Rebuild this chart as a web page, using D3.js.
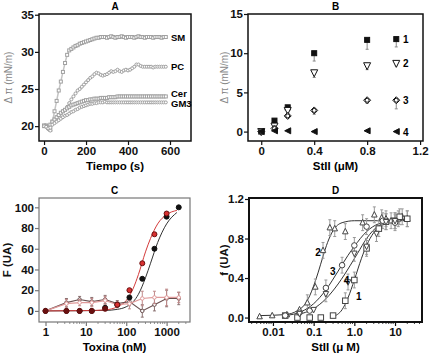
<!DOCTYPE html>
<html>
<head>
<meta charset="utf-8">
<script src="https://cdn.jsdelivr.net/npm/d3@7"></script>
<style>
  body { margin: 0; background: #fff; }
  svg { font-family: "Liberation Sans", Arial, sans-serif; }
</style>
</head>
<body>
<div class="usable"></div>
<script>
// ---- Panel A: cinetica de presion ----
const tiempo = [0,10,20,30,40,50,60,70,80,90,100,110,120,130,140,150,160,170,180,190,200,210,220,230,240,250,260,270,280,290,300,310,320,330,340,350,360,370,380,390,400,410,420,430,440,450,460,470,480,490,500,510,520,530,540,550,560,570,580]
const serieSM = [20.0,20.1,19.8,19.5,20.6,22.0,23.4,24.8,26.0,27.3,28.5,29.6,30.2,30.4,30.6,30.8,30.9,31.1,31.2,31.3,31.4,31.5,31.6,31.7,31.8,31.9,31.9,32.0,32.0,32.0,31.9,32.0,32.1,32.0,31.9,32.0,32.0,32.1,32.0,31.9,32.0,32.0,32.0,31.9,32.0,32.1,32.0,32.0,31.9,32.0,32.0,32.0,31.9,32.0,32.0,32.0,31.9,32.0,32.0]
const seriePC = [20.0,19.9,19.6,19.4,20.3,20.8,21.2,21.5,21.7,22.0,22.2,22.6,23.1,23.6,24.0,24.4,24.8,25.0,25.3,25.6,25.9,26.2,26.5,26.7,27.0,27.2,27.1,26.9,26.8,26.9,27.0,27.2,27.4,27.3,27.4,27.6,27.4,27.3,27.5,27.6,27.5,27.6,27.8,28.0,28.3,28.3,28.1,28.0,28.0,28.0,28.0,28.0,27.9,28.0,28.0,28.0,28.0,28.0,28.0]
const serieCer = [20.1,20.0,19.8,20.2,20.6,20.9,21.2,21.5,21.8,22.0,22.2,22.4,22.6,22.8,22.9,23.0,23.1,23.2,23.3,23.4,23.5,23.5,23.6,23.6,23.7,23.7,23.7,23.8,23.8,23.8,23.8,23.9,23.9,23.9,23.9,24.0,24.0,24.0,24.0,24.0,24.0,24.0,24.0,24.0,24.0,24.0,24.0,24.0,24.0,24.0,24.0,24.0,24.0,24.0,24.0,24.0,24.0,24.0,24.0]
const serieGM3 = [20.0,19.9,19.7,19.8,20.2,20.4,20.6,20.8,21.0,21.2,21.4,21.5,21.7,21.9,22.0,22.2,22.3,22.5,22.6,22.7,22.8,22.9,23.0,23.0,23.1,23.1,23.2,23.2,23.2,23.3,23.2,23.2,23.2,23.2,23.2,23.2,23.2,23.2,23.2,23.2,23.2,23.2,23.2,23.2,23.2,23.2,23.2,23.2,23.2,23.2,23.2,23.2,23.2,23.2,23.2,23.2,23.2,23.2,23.2]
const nombresA = ["SM", "PC", "Cer", "GM3"]
const nivelesEtiquetaA = [31.9, 28.0, 24.4, 23.0]
const ticksAx = [0, 200, 400, 600]
const ticksAy = [20, 25, 30, 35]

// ---- Panel B: presion vs StII ----
const concB = [0, 0.1, 0.2, 0.4, 0.8, 1.02]
const b1 = [0, 1.4, 3.1, 10.0, 11.7, 11.8]
const b1err = [0, 0.3, 0.3, 1.0, 1.2, 1.0]
const b2 = [0, 0.7, 2.7, 7.5, 8.4, 8.7]
const b2err = [0, 0.3, 0.4, 0.6, 0.5, 0.3]
const b3 = [0, 0.4, 2.0, 2.7, 4.0, 4.0]
const b3err = [0, 0.2, 0.3, 0.5, 0.4, 1.1]
const b4 = [0, 0.1, 0.1, 0, 0.1, 0]
const nombresB = ["1", "2", "3", "4"]
const ticksBx = [0, 0.4, 0.8, 1.2]
const ticksBy = [0, 5, 10, 15]

// ---- Panel C: fluorescencia vs toxina ----
const toxC = [1, 3.3, 7, 14, 30, 60, 120, 250, 500, 1000, 2000]
const rojoC = [0, 0, 0, 0, 2, 6, 20, 46, 74, 94, 99]
const negroC = [0, 0, 0, 0, 3, 6, 13, 31, 60, 91, 100]
const grisC = [0, 8, 11, 9, 11, 7, 9, 0, 6, 12, 12]
const grisCerr = [0, 4, 3, 4, 4, 3, 4, 6, 6, 8, 6]
const rosaC = [0, 7, 8, 8, 10, 6, 7, 12, 13, 13, 13]
const rosaCerr = [0, 4, 3, 4, 4, 3, 5, 7, 6, 8, 5]
// curvas ajustadas
const ajusteRojoX = [1, 10, 30, 60, 100, 150, 200, 300, 400, 600, 1000, 1800]
const ajusteRojoY = [0, 0.3, 1, 4, 10, 22, 35, 57, 70, 84, 93, 97]
const ajusteNegroX = [1, 30, 60, 100, 150, 200, 300, 400, 600, 1000, 1800]
const ajusteNegroY = [0, 0.5, 1.5, 4, 9, 16, 32, 46, 66, 84, 95]
const ticksCx = [1, 10, 100, 1000]
const ticksCy = [0, 20, 40, 60, 80, 100]

// ---- Panel D: f vs StII (log) ----
const d2x = [0.0047, 0.0096, 0.022, 0.045, 0.07, 0.11, 0.17, 0.25, 0.33, 0.6, 1.6, 3.1, 4.7, 6, 8, 12, 15, 20]
const d2y = [0.01, 0.02, 0.03, 0.08, 0.15, 0.31, 0.68, 0.91, 0.9, 0.87, 0.96, 1.04, 1.01, 1.0, 0.98, 1.0, 1.02, 1.0]
const d1x = [0.02, 0.04, 0.08, 0.15, 0.3, 0.6, 1.0, 2.0, 4.0, 6, 10, 13, 20]
const d1y = [0.02, 0, 0, 0, 0.02, 0.17, 0.38, 0.7, 0.9, 0.97, 0.98, 1.02, 1.0]
const d3x = [0.02, 0.045, 0.08, 0.2, 0.5, 1.0, 2.0, 5.0, 10]
const d3y = [0.02, 0.05, 0.07, 0.3, 0.53, 0.73, 0.92, 0.98, 0.96]
const d4x = [0.045, 0.1, 0.2, 0.7, 1.0, 2.0, 3.5, 6, 10]
const d4y = [0.04, 0.08, 0.24, 0.36, 0.65, 0.72, 0.85, 0.97, 0.98]
const dErr = 0.08
const curva2x = [0.005, 0.02, 0.04, 0.06, 0.08, 0.1, 0.13, 0.17, 0.22, 0.3, 0.5, 1, 20]
const curva2y = [0.02, 0.03, 0.07, 0.13, 0.22, 0.32, 0.46, 0.62, 0.76, 0.88, 0.96, 0.98, 0.98]
const curva3x = [0.02, 0.05, 0.1, 0.2, 0.4, 0.7, 1, 2, 4, 10, 20]
const curva3y = [0.02, 0.06, 0.14, 0.28, 0.47, 0.63, 0.72, 0.87, 0.95, 0.98, 0.99]
const curva4x = [0.04, 0.1, 0.2, 0.4, 0.8, 1.2, 2, 4, 10, 20]
const curva4y = [0.03, 0.09, 0.19, 0.34, 0.53, 0.65, 0.8, 0.93, 0.98, 0.99]
const curva1x = [0.3, 0.5, 0.7, 1, 1.5, 2, 3, 5, 10, 20]
const curva1y = [0.01, 0.08, 0.2, 0.38, 0.6, 0.73, 0.86, 0.95, 0.99, 1.0]
const ticksDx = [0.01, 0.1, 1, 10]
const etiquetasDx = ["0.01", "0.1", "1.0", "10"]
const ticksDy = [0, 0.4, 0.8, 1.2]

const width = 442, height = 360

let svg = d3.select(".usable").append("svg")
  .attr("width", width)
  .attr("height", height)

svg.append("rect").attr("width", width).attr("height", height).attr("fill", "#fff")

// dibuja marco, ejes y textos de un panel
function crearPanel(cfg) {
  let g = svg.append("g")
  let x = cfg.x, y = cfg.y
  let r = x.range(), yr = y.range()

  let ejeX = d3.axisBottom(x).tickValues(cfg.tx).tickSize(4).tickPadding(2)
  if (cfg.fx) ejeX.tickFormat(cfg.fx)
  let ejeY = d3.axisLeft(y).tickValues(cfg.ty).tickSize(4).tickPadding(1)
  if (cfg.fy) ejeY.tickFormat(cfg.fy)

  let gx = g.append("g").attr("transform", "translate(0," + yr[0] + ")").call(ejeX)
  let gy = g.append("g").attr("transform", "translate(" + r[0] + ",0)").call(ejeY)
  for (let a of [gx, gy]) {
    a.select(".domain").remove()
    a.selectAll("line").attr("stroke", cfg.color).attr("stroke-width", 1.2)
    a.selectAll("text").attr("font-size", 11.5).attr("font-weight", "bold").attr("fill", "#111")
  }

  // ticks menores para ejes log
  if (cfg.menores) {
    g.selectAll(".menor").data(cfg.menores).enter().append("line")
      .attr("x1", d => x(d)).attr("x2", d => x(d))
      .attr("y1", yr[0]).attr("y2", yr[0] + 2)
      .attr("stroke", cfg.color).attr("stroke-width", 0.8)
  }

  g.append("rect")
    .attr("x", r[0]).attr("y", yr[1])
    .attr("width", r[1] - r[0]).attr("height", yr[0] - yr[1])
    .attr("fill", "none").attr("stroke", cfg.color).attr("stroke-width", cfg.grosor)

  g.append("text").text(cfg.titulo)
    .attr("x", (r[0] + r[1]) / 2).attr("y", yr[1] - 4)
    .attr("text-anchor", "middle").attr("font-size", 10).attr("font-weight", "bold")

  g.append("text").text(cfg.etiquetaX)
    .attr("x", (r[0] + r[1]) / 2).attr("y", yr[0] + 29)
    .attr("text-anchor", "middle").attr("font-size", 11.5).attr("font-weight", "bold")

  g.append("text").text(cfg.etiquetaY)
    .attr("transform", "translate(" + cfg.yLabelX + "," + (yr[0] + yr[1]) / 2 + ") rotate(-90)")
    .attr("text-anchor", "middle").attr("font-size", cfg.yLabelSize)
    .attr("font-weight", cfg.yLabelBold ? "bold" : "normal")
    .attr("fill", cfg.yLabelColor)
  return g
}

function marcador(g, tipo, px, py, tam, relleno, trazo) {
  let s = tam
  if (tipo == "cuadrado") {
    g.append("rect").attr("x", px - s / 2).attr("y", py - s / 2).attr("width", s).attr("height", s)
      .attr("fill", relleno).attr("stroke", trazo).attr("stroke-width", 1)
  } else if (tipo == "circulo") {
    g.append("circle").attr("cx", px).attr("cy", py).attr("r", s / 2)
      .attr("fill", relleno).attr("stroke", trazo).attr("stroke-width", 1)
  } else {
    let pts
    if (tipo == "trianguloArriba") pts = [[0, -s / 2 - 0.5], [s / 2, s / 2 - 0.5], [-s / 2, s / 2 - 0.5]]
    if (tipo == "trianguloAbajo") pts = [[-s / 2, -s / 2 + 0.5], [s / 2, -s / 2 + 0.5], [0, s / 2 + 0.5]]
    if (tipo == "trianguloIzq") pts = [[-s / 2, 0], [s / 2, -s / 2], [s / 2, s / 2]]
    if (tipo == "rombo") pts = [[0, -s / 2], [s / 2, 0], [0, s / 2], [-s / 2, 0]]
    g.append("polygon").attr("points", pts.map(p => (px + p[0]) + "," + (py + p[1])).join(" "))
      .attr("fill", relleno).attr("stroke", trazo).attr("stroke-width", 1)
  }
}

function barra(g, px, y1, y2, color) {
  g.append("line").attr("x1", px).attr("x2", px).attr("y1", y1).attr("y2", y2)
    .attr("stroke", color).attr("stroke-width", 1)
  for (let yy of [y1, y2]) {
    g.append("line").attr("x1", px - 1.5).attr("x2", px + 1.5).attr("y1", yy).attr("y2", yy)
      .attr("stroke", color).attr("stroke-width", 1)
  }
}

// ================= Panel A =================
let xA = d3.scaleLinear().domain([-24, 700]).range([39, 191])
let yA = d3.scaleLinear().domain([18, 35.1]).range([141, 14])
let gA = crearPanel({
  x: xA, y: yA, tx: ticksAx, ty: ticksAy, color: "#111", grosor: 1.5,
  titulo: "A", etiquetaX: "Tiempo (s)", etiquetaY: "\u0394 \u03c0 (mN/m)",
  yLabelX: 12, yLabelSize: 10, yLabelBold: false, yLabelColor: "#888"
})
let seriesA = [serieSM, seriePC, serieCer, serieGM3]
seriesA.forEach(function (serie, k) {
  let linea = d3.line().x((d, i) => xA(tiempo[i])).y(d => yA(d))
  gA.append("path").datum(serie).attr("d", linea)
    .attr("fill", "none").attr("stroke", "#c4c4c4").attr("stroke-width", 1.5)
  serie.forEach(function (v, i) {
    marcador(gA, k % 2 == 0 ? "cuadrado" : "circulo", xA(tiempo[i]), yA(v), 3, "#fff", "#a0a0a0")
  })
  gA.append("text").text(nombresA[k])
    .attr("x", 171).attr("y", yA(nivelesEtiquetaA[k]) + 3.5)
    .attr("font-size", 9.5).attr("font-weight", "bold")
})

// ================= Panel B =================
let xB = d3.scaleLinear().domain([-0.1, 1.222]).range([248, 423])
let yB = d3.scaleLinear().domain([-1.2, 15]).range([141, 14])
let gB = crearPanel({
  x: xB, y: yB, tx: ticksBx, ty: ticksBy, color: "#111", grosor: 1.5,
  fx: d => d == 0 ? "0" : d3.format(".1f")(d),
  titulo: "B", etiquetaX: "StII (\u03bcM)", etiquetaY: "\u0394 \u03c0 (mN/m)",
  yLabelX: 228, yLabelSize: 10, yLabelBold: false, yLabelColor: "#888"
})
let seriesB = [
  { v: b1, e: b1err, tipo: "cuadrado", tam: 5, relleno: "#111" },
  { v: b2, e: b2err, tipo: "trianguloAbajo", tam: 7, relleno: "#fff" },
  { v: b3, e: b3err, tipo: "rombo", tam: 7, relleno: "#fff" },
  { v: b4, e: null, tipo: "trianguloIzq", tam: 6, relleno: "#111" }
]
seriesB.forEach(function (s, k) {
  s.v.forEach(function (v, i) {
    if (s.e && s.e[i] > 0) barra(gB, xB(concB[i]), yB(v), yB(v - s.e[i]), "#888")
    marcador(gB, s.tipo, xB(concB[i]), yB(v), s.tam, s.relleno, "#111")
    if (s.tipo == "rombo") marcador(gB, "circulo", xB(concB[i]), yB(v), 4, "#fff", "#111")
  })
  gB.append("text").text(nombresB[k])
    .attr("x", 403).attr("y", yB(s.v[s.v.length - 1]) + 4)
    .attr("font-size", 10).attr("font-weight", "bold")
})

// ================= Panel C =================
let xC = d3.scaleLog().domain([0.69, 3800]).range([39, 190])
let yC = d3.scaleLinear().domain([-10.7, 109]).range([322, 198])
let menoresC = []
for (let dec of [1, 10, 100, 1000]) for (let m = 2; m <= 9; m++) if (dec * m < 3800) menoresC.push(dec * m)
let gC = crearPanel({
  x: xC, y: yC, tx: ticksCx, ty: ticksCy, color: "#777", grosor: 1.2,
  fx: d3.format("d"), menores: menoresC,
  titulo: "C", etiquetaX: "Toxina (nM)", etiquetaY: "F (UA)",
  yLabelX: 11, yLabelSize: 11.5, yLabelBold: true, yLabelColor: "#111"
})
let lineaLog = d3.line().curve(d3.curveMonotoneX)
gC.append("path").datum(ajusteNegroX.map((d, i) => [xC(d), yC(ajusteNegroY[i])]))
  .attr("d", lineaLog).attr("fill", "none").attr("stroke", "#333").attr("stroke-width", 1)
gC.append("path").datum(ajusteRojoX.map((d, i) => [xC(d), yC(ajusteRojoY[i])]))
  .attr("d", lineaLog).attr("fill", "none").attr("stroke", "#d43a3a").attr("stroke-width", 1)

let lineasC = [
  { v: grisC, e: grisCerr, color: "#6a5050", barra: "#8a7070" },
  { v: rosaC, e: rosaCerr, color: "#e09a9a", barra: "#c08a8a" }
]
lineasC.forEach(function (s) {
  gC.append("path").datum(s.v.map((d, i) => [xC(toxC[i]), yC(d)]))
    .attr("d", d3.line()).attr("fill", "none").attr("stroke", s.color).attr("stroke-width", 1.2)
  s.v.forEach(function (v, i) {
    if (s.e[i] > 0) barra(gC, xC(toxC[i]), yC(v + s.e[i]), yC(v - s.e[i]), s.barra)
    marcador(gC, "circulo", xC(toxC[i]), yC(v), 3.5, "#fff", s.color)
  })
})
negroC.forEach(function (v, i) {
  marcador(gC, "circulo", xC(toxC[i]), yC(v), 5, "#111", "#111")
})
rojoC.forEach(function (v, i) {
  if (i == rojoC.length - 1) return
  let oscuro = i < 5
  marcador(gC, "circulo", xC(toxC[i]), yC(v), 5, oscuro ? "#6a1010" : "#d93030", "#6a1010")
})

// ================= Panel D =================
let xD = d3.scaleLog().domain([0.00258, 46]).range([249, 422])
let yD = d3.scaleLinear().domain([-0.045, 1.21]).range([322, 198])
let menoresD = []
for (let dec of [0.001, 0.01, 0.1, 1, 10]) for (let m = 2; m <= 9; m++) {
  let v = dec * m
  if (v > 0.00258 && v < 46) menoresD.push(v)
}
let gD = crearPanel({
  x: xD, y: yD, tx: ticksDx, ty: ticksDy, color: "#111", grosor: 2,
  fx: (d, i) => etiquetasDx[i], menores: menoresD,
  titulo: "D", etiquetaX: "StII (\u03bc M)", etiquetaY: "f (UA)",
  yLabelX: 228, yLabelSize: 11.5, yLabelBold: true, yLabelColor: "#111"
})
let curvasD = [[curva2x, curva2y], [curva3x, curva3y], [curva4x, curva4y], [curva1x, curva1y]]
curvasD.forEach(function (c) {
  gD.append("path").datum(c[0].map((d, i) => [xD(d), yD(c[1][i])]))
    .attr("d", lineaLog).attr("fill", "none").attr("stroke", "#333").attr("stroke-width", 1)
})
let puntosD = [
  { x: d2x, y: d2y, tipo: "trianguloArriba" },
  { x: d1x, y: d1y, tipo: "cuadrado" },
  { x: d3x, y: d3y, tipo: "circulo" },
  { x: d4x, y: d4y, tipo: "trianguloAbajo" }
]
puntosD.forEach(function (s) {
  s.x.forEach(function (xv, i) {
    let v = s.y[i]
    if (v > 0.1) barra(gD, xD(xv), yD(v + dErr), yD(v - dErr), "#999")
  })
})
puntosD.forEach(function (s) {
  s.x.forEach(function (xv, i) {
    marcador(gD, s.tipo, xD(xv), yD(s.y[i]), 5.5, "#fff", "#444")
  })
})
let etiquetasD = [["2", 0.13, 0.66], ["3", 0.3, 0.47], ["4", 0.65, 0.38], ["1", 1.3, 0.22]]
etiquetasD.forEach(function (e) {
  gD.append("text").text(e[0]).attr("x", xD(e[1]) - 3).attr("y", yD(e[2]) + 4)
    .attr("font-size", 10).attr("font-weight", "bold")
})
</script>
</body>
</html>
